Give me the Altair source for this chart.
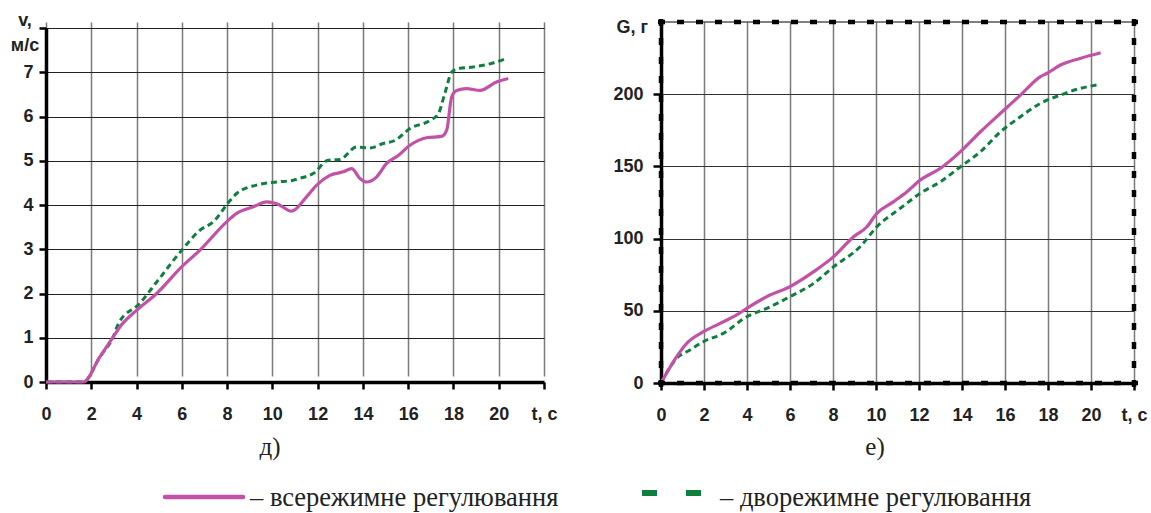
import altair as alt
import pandas as pd

# ---------------- data ----------------
# left panel: speed v, m/s
t_v_all = [0, 1.0, 1.65, 2.38, 2.97, 3.27, 4.0, 4.89, 5.99, 6.8, 7.98, 8.42, 9.16, 9.75, 10.2, 10.85,
           11.5, 11.96, 12.54, 13.13, 13.5, 13.87, 14.16, 14.6, 15.05, 15.56, 16.08, 16.81, 17.48, 17.7,
           17.92, 18.14, 18.58, 19.17, 19.9, 20.42]
v_all = [0, 0, 0, 0.57, 1.02, 1.25, 1.62, 2.0, 2.6, 2.98, 3.62, 3.81, 3.96, 4.07, 4.03, 3.86,
         4.18, 4.45, 4.67, 4.75, 4.82, 4.6, 4.52, 4.63, 4.94, 5.12, 5.35, 5.52, 5.55, 5.69,
         6.44, 6.59, 6.63, 6.59, 6.78, 6.86]
t_v_dual = [0, 1.65, 2.38, 2.97, 3.2, 4.15, 4.89, 6.0, 6.8, 7.39, 8.13, 8.42, 9.3, 10.19, 10.92, 11.2,
            11.8, 12.47, 12.99, 13.72, 14.31, 14.9, 15.42, 16.08, 16.96, 17.33, 17.62, 17.92, 18.2,
            18.87, 19.61, 20.27]
v_dual = [0, 0, 0.57, 1.02, 1.32, 1.78, 2.26, 2.98, 3.43, 3.62, 4.1, 4.26, 4.45, 4.52, 4.56, 4.6,
          4.71, 5.01, 5.03, 5.31, 5.29, 5.39, 5.46, 5.73, 5.91, 6.06, 6.52, 7.0, 7.08,
          7.12, 7.19, 7.3]

# right panel: fuel G, g
t_g_all = [0, 0.73, 1.2, 1.97, 2.75, 3.52, 3.99, 4.92, 6.0, 7.1, 8.03, 8.96, 9.58, 10.04, 10.82,
           11.44, 12.06, 13.0, 13.93, 14.86, 15.79, 16.72, 17.65, 17.96, 18.58, 19.52, 20.45]
g_all = [0, 18.2, 27.5, 35.5, 41.3, 47.1, 51.7, 59.8, 66.7, 77.1, 87.5, 101.3, 108.2, 117.5, 125.6,
         132.5, 140.6, 148.7, 160.2, 174.0, 186.8, 199.4, 212.1, 214.5, 220.2, 224.9, 228.7]
t_g_dual = [0, 0.73, 1.35, 1.97, 2.9, 3.99, 4.92, 6.0, 7.1, 8.03, 9.3, 10.04, 11.13, 12.06, 13.0,
            13.93, 14.86, 15.79, 16.72, 17.65, 18.58, 19.52, 20.29]
g_dual = [0, 17.1, 22.9, 28.6, 34.4, 45.9, 51.7, 59.8, 69.0, 80.5, 95.0, 108.2, 121.0, 131.4, 139.4,
          149.8, 160.2, 174.0, 184.4, 193.7, 199.4, 204.1, 206.4]

x_ticks = list(range(0, 23, 2))
v_ticks = list(range(0, 9))
g_ticks = [0, 50, 100, 150, 200]

legend_all = "– всережимне регулювання"
legend_dual = "– дворежимне регулювання"

PURPLE = "#C152A8"
GREEN = "#0F7F3F"
SANS = "Liberation Sans"
SERIF = "Liberation Serif"
FS = 18

W1, H1 = 498, 360
W2, H2 = 473, 361

one = pd.DataFrame({"a": [0]})


def x_axis():
    return alt.Axis(values=x_ticks, title=None,
                    labelExpr="datum.value == 22 ? 't, c' : datum.label",
                    domainColor="black", domainWidth=3.5, tickColor="black", tickWidth=2.5,
                    tickSize=7, labelFont=SANS, labelFontWeight="bold", labelFontSize=FS,
                    labelColor="#222", labelPadding=16, gridColor="#7a7a7a", gridWidth=1.5,
                    labelFlush=False, labelOverlap=False)


# ---------------- left panel ----------------
df_va = pd.DataFrame({"t": t_v_all, "v": v_all})
df_vd = pd.DataFrame({"t": t_v_dual, "v": v_dual})

xs1 = alt.Scale(domain=[0, 22], nice=False, zero=False)
ys1 = alt.Scale(domain=[0, 8], nice=False, range=[H1, 6])
yax1 = alt.Axis(values=v_ticks, title=None, labelExpr="datum.value == 8 ? '' : datum.label",
                domainColor="black", domainWidth=3.5, tickColor="black", tickWidth=2.5, tickSize=7,
                labelFont=SANS, labelFontWeight="bold", labelFontSize=FS, labelColor="#222",
                labelPadding=6, gridColor="#222", gridWidth=1, labelOverlap=False)

l_dual = alt.Chart(df_vd).mark_line(color=GREEN, strokeWidth=3, strokeDash=[6, 4],
                                    interpolate="monotone").encode(
    x=alt.X("t:Q", scale=xs1, axis=x_axis()),
    y=alt.Y("v:Q", scale=ys1, axis=yax1))
l_all = alt.Chart(df_va).mark_line(color=PURPLE, strokeWidth=3.2, interpolate="monotone").encode(
    x=alt.X("t:Q", scale=xs1), y=alt.Y("v:Q", scale=ys1))

v_lab1 = alt.Chart(one).mark_text(text="v,", font=SANS, fontWeight="bold", fontSize=FS,
                                  color="#222", align="center", baseline="middle").encode(
    x=alt.value(-21), y=alt.value(-1))
v_lab2 = alt.Chart(one).mark_text(text="м/с", font=SANS, fontWeight="bold", fontSize=FS,
                                  color="#222", align="center", baseline="middle").encode(
    x=alt.value(-21), y=alt.value(24))
cap1 = alt.Chart(one).mark_text(text="д)", font=SERIF, fontSize=25, color="#222",
                                align="center", baseline="alphabetic").encode(
    x=alt.value(224), y=alt.value(433))
leg_line = alt.Chart(one).mark_rule(color=PURPLE, strokeWidth=4.5, strokeCap="round").encode(
    x=alt.value(119), x2=alt.value(197), y=alt.value(475))
leg_text1 = alt.Chart(one).mark_text(text=legend_all, font=SERIF, fontSize=26.5, color="#222",
                                     align="left", baseline="alphabetic").encode(
    x=alt.value(204), y=alt.value(484))

left = alt.layer(l_dual, l_all, v_lab1, v_lab2, cap1, leg_line, leg_text1).properties(
    width=W1, height=H1)

# ---------------- right panel ----------------
df_ga = pd.DataFrame({"t": t_g_all, "g": g_all})
df_gd = pd.DataFrame({"t": t_g_dual, "g": g_dual})

xs2 = alt.Scale(domain=[0, 22], nice=False, zero=False)
ys2 = alt.Scale(domain=[0, 250], nice=False)
yax2 = alt.Axis(values=g_ticks, title=None,
                domainColor="black", domainWidth=3.5, tickColor="black", tickWidth=2.5, tickSize=8,
                labelFont=SANS, labelFontWeight="bold", labelFontSize=FS, labelColor="#222",
                labelPadding=10, gridColor="#333", gridWidth=1, labelOverlap=False)

g_dual_l = alt.Chart(df_gd).mark_line(color=GREEN, strokeWidth=3, strokeDash=[6, 4],
                                      interpolate="monotone").encode(
    x=alt.X("t:Q", scale=xs2, axis=x_axis()),
    y=alt.Y("g:Q", scale=ys2, axis=yax2))
g_all_l = alt.Chart(df_ga).mark_line(color=PURPLE, strokeWidth=3.2, interpolate="monotone").encode(
    x=alt.X("t:Q", scale=xs2), y=alt.Y("g:Q", scale=ys2))

top_thin = alt.Chart(one).mark_rule(color="black", strokeWidth=1).encode(
    x=alt.value(0), x2=alt.value(W2), y=alt.value(0))
dash = dict(color="black", strokeWidth=4.5, strokeDash=[7, 12])
top_dash = alt.Chart(one).mark_rule(**dash).encode(x=alt.value(-3), x2=alt.value(W2 + 4), y=alt.value(0))
bot_dash = alt.Chart(one).mark_rule(**dash).encode(x=alt.value(-3), x2=alt.value(W2 + 4), y=alt.value(H2))
lft_dash = alt.Chart(one).mark_rule(**dash).encode(x=alt.value(0), y=alt.value(-3), y2=alt.value(H2 + 4))
rgt_dash = alt.Chart(one).mark_rule(**dash).encode(x=alt.value(W2), y=alt.value(-3), y2=alt.value(H2 + 4))

g_lab = alt.Chart(one).mark_text(text="G, г", font=SANS, fontWeight="bold", fontSize=FS,
                                 color="#222", align="right", baseline="middle").encode(
    x=alt.value(-13), y=alt.value(6))
cap2 = alt.Chart(one).mark_text(text="е)", font=SERIF, fontSize=25, color="#222",
                                align="center", baseline="alphabetic").encode(
    x=alt.value(214), y=alt.value(433))
leg_d1 = alt.Chart(one).mark_rule(color=GREEN, strokeWidth=6).encode(
    x=alt.value(-19), x2=alt.value(-4), y=alt.value(471))
leg_d2 = alt.Chart(one).mark_rule(color=GREEN, strokeWidth=6).encode(
    x=alt.value(25), x2=alt.value(40), y=alt.value(471))
leg_text2 = alt.Chart(one).mark_text(text=legend_dual, font=SERIF, fontSize=26.5, color="#222",
                                     align="left", baseline="alphabetic").encode(
    x=alt.value(59), y=alt.value(484))

right = alt.layer(g_dual_l, g_all_l, top_thin, top_dash, bot_dash, lft_dash, rgt_dash,
                  g_lab, cap2, leg_d1, leg_d2, leg_text2).properties(width=W2, height=H2)

chart = alt.hconcat(left, right, spacing=53).properties(
    padding={"left": 10, "top": 12, "right": 0, "bottom": 0},
    background="white",
).configure_view(stroke=None)

chart.save("out.html", embed_options={"renderer": "svg", "actions": False})
